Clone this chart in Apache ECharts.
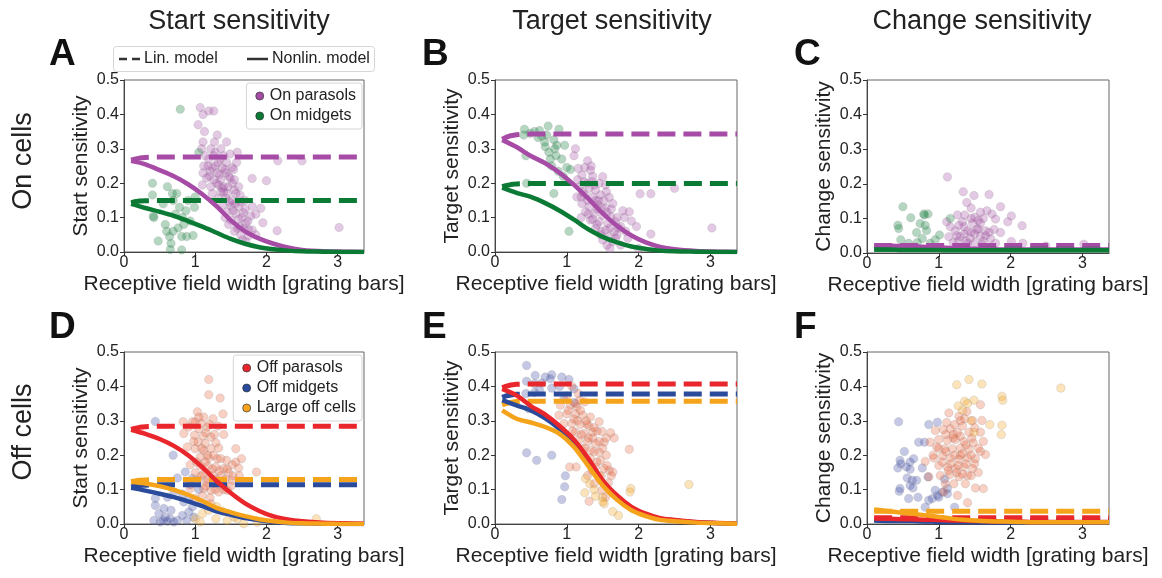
<!DOCTYPE html>
<html>
<head>
<meta charset="utf-8">
<script src="https://cdn.jsdelivr.net/npm/echarts@6/dist/echarts.min.js"></script>
<style>
html,body{margin:0;padding:0;background:#fff;}
#chart{width:1162px;height:578px;}
</style>
</head>
<body>
<div id="chart"></div>
<script>
// ---------- tick labels / axes ----------
const xTicks = [0, 1, 2, 3];
const yTicks = [0, 0.1, 0.2, 0.3, 0.4, 0.5];
const colTitles = ['Start sensitivity', 'Target sensitivity', 'Change sensitivity'];
const rowTitles = ['On cells', 'Off cells'];
const panelLetters = ['A', 'B', 'C', 'D', 'E', 'F'];
const yNames = ['Start sensitivity', 'Target sensitivity', 'Change sensitivity'];
const xName = 'Receptive field width [grating bars]';
const onNames = ['On parasols', 'On midgets'];
const offNames = ['Off parasols', 'Off midgets', 'Large off cells'];

// ---------- model curves ----------
const curveX = [0.1, 0.3, 0.5, 0.7, 0.9, 1.1, 1.3, 1.5, 1.7, 1.9, 2.1, 2.3, 2.5, 2.8, 3.1, 3.37];
const linX = [0.1, 0.15, 0.22, 0.3, 0.45, 3.37];

// Panel A (On, start)
const aParasolNonlin = [0.265, 0.255, 0.238, 0.220, 0.197, 0.168, 0.133, 0.092, 0.060, 0.039, 0.024, 0.013, 0.006, 0.002, 0.001, 0.0];
const aMidgetNonlin  = [0.140, 0.128, 0.117, 0.105, 0.090, 0.074, 0.056, 0.038, 0.024, 0.014, 0.008, 0.004, 0.002, 0.001, 0.0, 0.0];
const aParasolLin = [0.267, 0.270, 0.273, 0.275, 0.276, 0.276];
const aMidgetLin  = [0.143, 0.146, 0.148, 0.149, 0.150, 0.150];
// Panel B (On, target)
const bParasolNonlin = [0.326, 0.305, 0.279, 0.258, 0.230, 0.195, 0.155, 0.112, 0.076, 0.048, 0.028, 0.015, 0.008, 0.003, 0.001, 0.0];
const bMidgetNonlin  = [0.187, 0.172, 0.160, 0.142, 0.120, 0.094, 0.066, 0.044, 0.028, 0.016, 0.009, 0.004, 0.002, 0.001, 0.0, 0.0];
const bParasolLin = [0.328, 0.333, 0.338, 0.341, 0.343, 0.343];
const bMidgetLin  = [0.190, 0.193, 0.196, 0.198, 0.199, 0.199];
// Panel C (On, change)
const cParasolNonlin = [0.022, 0.021, 0.020, 0.019, 0.017, 0.015, 0.013, 0.012, 0.011, 0.010, 0.010, 0.010, 0.010, 0.010, 0.010, 0.010];
const cMidgetNonlin  = [0.010, 0.010, 0.009, 0.009, 0.009, 0.008, 0.008, 0.008, 0.008, 0.008, 0.008, 0.008, 0.008, 0.008, 0.008, 0.008];
const cParasolLin = [0.022, 0.022, 0.022, 0.022, 0.022, 0.022];
const cMidgetLin  = [0.011, 0.011, 0.011, 0.011, 0.011, 0.011];
// Panel D (Off, start)
const dParasolNonlin = [0.274, 0.262, 0.247, 0.227, 0.200, 0.165, 0.125, 0.090, 0.060, 0.038, 0.022, 0.013, 0.008, 0.004, 0.002, 0.001];
const dMidgetNonlin  = [0.105, 0.097, 0.088, 0.078, 0.066, 0.052, 0.037, 0.027, 0.017, 0.011, 0.006, 0.003, 0.002, 0.001, 0.0, 0.0];
const dLargeNonlin   = [0.123, 0.118, 0.110, 0.099, 0.085, 0.067, 0.047, 0.034, 0.023, 0.014, 0.008, 0.004, 0.002, 0.001, 0.0, 0.0];
const dParasolLin = [0.275, 0.278, 0.281, 0.283, 0.284, 0.284];
const dMidgetLin  = [0.108, 0.110, 0.112, 0.113, 0.114, 0.114];
const dLargeLin   = [0.123, 0.125, 0.127, 0.128, 0.129, 0.129];
// Panel E (Off, target)
const eParasolNonlin = [0.393, 0.374, 0.343, 0.318, 0.285, 0.245, 0.190, 0.127, 0.083, 0.050, 0.030, 0.017, 0.012, 0.006, 0.003, 0.001];
const eMidgetNonlin  = [0.360, 0.345, 0.330, 0.307, 0.276, 0.237, 0.180, 0.122, 0.078, 0.046, 0.027, 0.015, 0.010, 0.005, 0.002, 0.001];
const eLargeNonlin   = [0.330, 0.306, 0.295, 0.282, 0.262, 0.224, 0.168, 0.112, 0.070, 0.040, 0.023, 0.012, 0.008, 0.004, 0.002, 0.001];
const eParasolLin = [0.396, 0.400, 0.404, 0.406, 0.407, 0.407];
const eMidgetLin  = [0.368, 0.372, 0.375, 0.377, 0.378, 0.378];
const eLargeLin   = [0.346, 0.350, 0.353, 0.356, 0.357, 0.357];
// Panel F (Off, change)
const fParasolNonlin = [0.016, 0.015, 0.014, 0.013, 0.012, 0.011, 0.010, 0.009, 0.008, 0.007, 0.007, 0.006, 0.006, 0.006, 0.006, 0.006];
const fMidgetNonlin  = [0.010, 0.009, 0.009, 0.008, 0.007, 0.006, 0.006, 0.005, 0.005, 0.004, 0.004, 0.004, 0.004, 0.004, 0.004, 0.004];
const fLargeNonlin   = [0.042, 0.037, 0.033, 0.028, 0.023, 0.018, 0.013, 0.010, 0.008, 0.007, 0.006, 0.005, 0.005, 0.005, 0.005, 0.005];
const fParasolLin = [0.018, 0.018, 0.018, 0.018, 0.018, 0.018];
const fMidgetLin  = [0.012, 0.012, 0.012, 0.012, 0.012, 0.012];
const fLargeLin   = [0.037, 0.037, 0.037, 0.037, 0.037, 0.037];

// ---------- cells (receptive field width, sensitivity) ----------
const aParasol = [[1.07,0.42],[1.11,0.40],[1.19,0.41],[1.26,0.41],[1.04,0.37],[1.13,0.35],[1.31,0.34],[1.11,0.32],[1.27,0.32],[1.44,0.32],[1.59,0.29],[1.09,0.30],[1.22,0.30],[1.36,0.30],[1.14,0.28],[1.26,0.28],[1.40,0.28],[1.49,0.285],[1.19,0.27],[1.32,0.26],[1.44,0.26],[1.12,0.25],[1.24,0.245],[1.38,0.245],[1.52,0.245],[1.11,0.23],[1.21,0.235],[1.31,0.23],[1.43,0.23],[1.54,0.24],[1.16,0.215],[1.26,0.21],[1.36,0.21],[1.49,0.215],[1.80,0.214],[2.0,0.207],[1.10,0.195],[1.22,0.19],[1.33,0.195],[1.40,0.19],[1.52,0.2],[1.61,0.19],[1.24,0.17],[1.36,0.175],[1.45,0.17],[1.57,0.17],[1.40,0.175],[1.33,0.156],[1.43,0.156],[1.52,0.15],[1.64,0.146],[1.38,0.136],[1.50,0.134],[1.61,0.132],[1.80,0.132],[1.92,0.127],[1.45,0.117],[1.57,0.112],[1.68,0.114],[1.78,0.105],[1.50,0.093],[1.61,0.095],[1.71,0.083],[1.95,0.085],[1.59,0.069],[1.68,0.069],[1.80,0.064],[2.15,0.062],[1.64,0.05],[1.75,0.047],[1.71,0.03],[2.16,0.265],[2.50,0.265],[3.02,0.071],
  [1.28,0.25],[1.35,0.27],[1.42,0.24],[1.47,0.22],[1.55,0.21],[1.30,0.20],[1.38,0.185],[1.46,0.19],[1.55,0.18],[1.63,0.165],[1.48,0.145],[1.56,0.14],[1.70,0.125],[1.42,0.10],[1.53,0.12],[1.66,0.10],[1.74,0.09],[1.47,0.08],[1.62,0.075],[1.75,0.065],[1.85,0.05],[1.66,0.035],[1.20,0.22],[1.28,0.29],[1.18,0.25],[1.34,0.225],[1.58,0.26],[1.70,0.15],[1.85,0.11],[1.55,0.06]];
const aMidget = [[0.79,0.415],[1.05,0.289],[0.40,0.20],[0.40,0.166],[0.61,0.19],[0.68,0.17],[0.74,0.17],[0.41,0.104],[0.42,0.10],[0.48,0.032],[0.64,0.045],[0.65,0.007],[0.81,0.006],[0.78,0.13],[0.82,0.10],[0.84,0.08],[0.69,0.06],[0.76,0.07],[0.97,0.048],[0.60,0.06],[0.88,0.045],[0.81,0.045],[0.99,0.13],[1.0,0.16],[0.69,0.15],[0.55,0.14],[0.87,0.12],[0.93,0.09],[0.72,0.11],[0.58,0.08],[0.90,0.15],[0.66,0.025]];
const bParasol = [[1.12,0.30],[1.10,0.28],[1.29,0.265],[1.16,0.243],[1.25,0.246],[1.33,0.238],[1.21,0.224],[1.36,0.22],[1.50,0.219],[1.45,0.20],[1.54,0.195],[1.24,0.204],[1.31,0.185],[1.40,0.18],[1.14,0.16],[1.25,0.166],[1.36,0.16],[1.47,0.166],[1.59,0.159],[2.02,0.169],[2.17,0.169],[2.50,0.185],[1.21,0.141],[1.31,0.132],[1.43,0.137],[1.54,0.127],[1.64,0.141],[1.26,0.117],[1.38,0.112],[1.50,0.107],[1.61,0.103],[1.78,0.12],[1.87,0.117],[1.33,0.093],[1.45,0.088],[1.57,0.083],[1.68,0.088],[1.80,0.10],[1.40,0.069],[1.54,0.064],[1.66,0.059],[1.75,0.074],[1.97,0.074],[1.50,0.035],[1.64,0.03],[1.75,0.02],[2.00,0.01],[2.17,0.052],[3.02,0.07],[1.18,0.19],[1.29,0.15],[1.42,0.125],[1.52,0.15],[1.35,0.205],[1.58,0.045],[1.70,0.05],[1.47,0.05],[1.60,0.01],[1.20,0.10],
  [1.15,0.21],[1.22,0.175],[1.28,0.20],[1.38,0.195],[1.44,0.15],[1.48,0.13],[1.56,0.115],[1.62,0.125],[1.70,0.10],[1.72,0.07],[1.36,0.095],[1.42,0.08],[1.48,0.06],[1.60,0.07],[1.68,0.04],[1.82,0.06],[1.90,0.09],[1.30,0.11],[1.20,0.16],[1.40,0.15],[1.55,0.175],[1.85,0.04],[1.56,0.02],[1.34,0.25]];
const bMidget = [[0.41,0.357],[0.49,0.345],[0.62,0.353],[0.74,0.366],[0.89,0.357],[0.40,0.34],[0.65,0.337],[0.82,0.326],[0.69,0.32],[0.43,0.28],[0.75,0.29],[0.83,0.30],[0.85,0.28],[0.97,0.31],[0.77,0.27],[0.93,0.27],[1.00,0.246],[1.05,0.24],[0.44,0.20],[0.82,0.17],[1.03,0.06],[0.86,0.31],[0.70,0.306],[0.60,0.333],[0.79,0.25],[0.95,0.22],[0.55,0.35],[0.72,0.34],[0.88,0.235]];
const cParasol = [[1.12,0.22],[1.34,0.177],[1.49,0.166],[1.70,0.169],[1.39,0.146],[1.45,0.13],[1.86,0.134],[2.01,0.107],[1.96,0.09],[2.16,0.079],[1.26,0.11],[1.58,0.118],[1.67,0.122],[1.74,0.113],[1.50,0.103],[1.11,0.09],[1.16,0.076],[1.35,0.076],[1.47,0.086],[1.58,0.086],[1.79,0.098],[1.23,0.064],[1.40,0.064],[1.53,0.068],[1.65,0.064],[1.77,0.068],[1.86,0.059],[1.14,0.047],[1.30,0.047],[1.44,0.042],[1.58,0.049],[1.72,0.042],[2.01,0.033],[2.17,0.028],[2.49,0.02],[1.40,0.028],[1.79,0.028],[1.20,0.03],[3.02,0.025],[1.33,0.09],[1.62,0.10],[1.27,0.035],[1.50,0.055],[1.62,0.035],
  [1.25,0.05],[1.35,0.055],[1.45,0.06],[1.55,0.07],[1.65,0.05],[1.38,0.035],[1.50,0.03],[1.60,0.025],[1.70,0.06],[1.45,0.10],[1.36,0.11],[1.55,0.095],[1.28,0.08]];
const cMidget = [[0.50,0.134],[0.43,0.08],[0.44,0.071],[0.61,0.102],[0.79,0.113],[0.85,0.113],[0.74,0.085],[0.81,0.08],[0.69,0.059],[0.83,0.065],[0.47,0.038],[0.77,0.042],[0.95,0.038],[1.01,0.052],[0.58,0.028],[0.88,0.028],[1.16,0.10],[0.80,0.11],[0.70,0.03]];
const dParasol = [[1.19,0.42],[1.35,0.366],[1.19,0.376],[1.03,0.326],[1.39,0.32],[1.12,0.311],[1.25,0.306],[0.83,0.297],[0.96,0.297],[1.0,0.297],[1.08,0.292],[0.91,0.282],[1.05,0.277],[1.17,0.282],[1.32,0.285],[1.40,0.26],[0.84,0.263],[0.99,0.258],[1.11,0.256],[1.22,0.253],[1.04,0.238],[1.14,0.234],[1.29,0.236],[0.89,0.224],[1.0,0.219],[1.12,0.214],[1.22,0.219],[1.33,0.221],[1.57,0.219],[1.07,0.195],[1.19,0.192],[1.31,0.19],[1.44,0.185],[1.57,0.18],[0.93,0.172],[1.07,0.17],[1.18,0.168],[1.29,0.166],[1.40,0.161],[1.52,0.172],[1.61,0.163],[1.0,0.149],[1.12,0.146],[1.24,0.143],[1.36,0.14],[1.47,0.149],[1.86,0.151],[1.05,0.127],[1.17,0.122],[1.29,0.117],[1.40,0.114],[1.52,0.127],[1.12,0.103],[1.22,0.098],[1.33,0.093],[1.45,0.098],[1.10,0.083],[1.21,0.076],[0.93,0.103],[1.0,0.074],[1.22,0.059],
  [1.15,0.265],[1.27,0.26],[1.09,0.22],[1.17,0.20],[1.26,0.20],[1.36,0.19],[1.02,0.18],[1.14,0.18],[1.24,0.16],[1.34,0.155],[1.45,0.16],[1.08,0.14],[1.18,0.13],[1.30,0.13],[1.42,0.13],[1.53,0.14],[1.15,0.11],[1.28,0.10],[1.40,0.10],[1.50,0.11],[0.98,0.24],[1.05,0.31],[1.20,0.29],[1.62,0.14],[1.65,0.19]];
const dMidget = [[0.44,0.298],[0.69,0.20],[0.44,0.075],[0.44,0.054],[0.61,0.078],[0.70,0.093],[0.82,0.087],[0.93,0.114],[0.84,0.064],[0.56,0.045],[0.49,0.03],[0.58,0.02],[0.65,0.015],[0.75,0.01],[0.51,0.006],[0.70,0.006],[0.82,0.025],[0.91,0.035],[0.98,0.02],[0.61,0.008],[0.42,0.01],[0.96,0.05],[0.86,0.151],[0.75,0.134],[0.96,0.132],[0.91,0.074],[0.55,0.01],[0.88,0.01],[0.66,0.04],[1.05,0.10],[1.10,0.06]];
const dLarge = [[1.19,0.04],[1.38,0.037],[1.29,0.015],[1.45,0.01],[1.59,0.015],[1.07,0.006],[1.68,0.001],[2.70,0.015],[1.87,0.005],[1.55,0.02],[1.10,0.03],[1.30,0.05],[1.00,0.015]];
const eParasol = [[1.07,0.40],[1.16,0.379],[1.0,0.372],[0.91,0.345],[1.05,0.345],[1.14,0.34],[1.25,0.355],[0.89,0.316],[1.0,0.32],[1.12,0.32],[1.22,0.316],[1.33,0.311],[0.96,0.292],[1.07,0.292],[1.19,0.289],[1.31,0.285],[1.45,0.297],[1.12,0.267],[1.24,0.263],[1.36,0.267],[1.49,0.269],[1.61,0.265],[1.17,0.243],[1.29,0.24],[1.40,0.234],[1.52,0.238],[1.87,0.217],[1.21,0.219],[1.33,0.214],[1.45,0.209],[1.47,0.185],[1.33,0.19],[1.59,0.156],[1.52,0.161],[1.64,0.151],[1.40,0.166],[1.04,0.166],[1.13,0.166],[1.29,0.141],[1.38,0.117],[1.49,0.098],[1.54,0.078],[1.31,0.066],[1.19,0.33],[1.10,0.305],[1.28,0.29],[1.36,0.25],[1.42,0.27],
  [1.02,0.33],[1.15,0.30],[1.27,0.30],[1.20,0.26],[1.30,0.25],[1.38,0.28],[1.25,0.22],[1.38,0.21],[1.50,0.22],[1.45,0.24],[1.55,0.20],[1.42,0.18],[1.56,0.17],[1.62,0.14],[1.48,0.14],[1.35,0.155],[1.12,0.35],[1.18,0.36],[1.08,0.27],[1.55,0.25],[1.66,0.25],[1.58,0.12]];
const eMidget = [[0.44,0.461],[0.56,0.432],[0.70,0.427],[0.79,0.434],[0.93,0.427],[0.44,0.415],[0.55,0.408],[0.65,0.41],[0.77,0.422],[1.03,0.42],[1.10,0.393],[0.43,0.379],[0.55,0.382],[0.79,0.395],[0.47,0.335],[0.44,0.207],[0.58,0.185],[0.79,0.20],[0.98,0.14],[0.97,0.108],[0.93,0.071],[0.96,0.364],[1.10,0.353],[0.90,0.40],[0.62,0.39]];
const eLarge = [[1.25,0.091],[1.40,0.081],[1.50,0.078],[1.52,0.059],[1.64,0.036],[1.72,0.025],[1.89,0.103],[1.88,0.093],[2.70,0.115],[1.32,0.117],[1.38,0.10],[1.26,0.132],[1.50,0.065],[1.45,0.14]];
const fParasol = [[1.14,0.323],[1.28,0.313],[1.39,0.327],[1.58,0.347],[1.36,0.306],[1.47,0.301],[1.60,0.301],[1.11,0.295],[1.22,0.289],[1.33,0.285],[1.42,0.267],[1.58,0.267],[0.95,0.272],[1.06,0.275],[1.16,0.277],[1.26,0.266],[0.88,0.238],[1.0,0.246],[1.12,0.243],[1.23,0.246],[1.35,0.24],[1.48,0.236],[0.97,0.224],[1.08,0.219],[1.19,0.219],[1.30,0.221],[1.42,0.217],[1.58,0.211],[0.81,0.182],[0.93,0.192],[1.05,0.198],[1.16,0.192],[1.28,0.188],[1.40,0.192],[1.51,0.19],[1.65,0.202],[1.0,0.17],[1.12,0.166],[1.23,0.161],[1.35,0.166],[1.47,0.161],[0.86,0.137],[1.02,0.141],[1.15,0.143],[1.28,0.137],[1.40,0.141],[1.09,0.117],[1.21,0.117],[1.37,0.117],[1.51,0.105],[1.62,0.103],[1.07,0.093],[1.26,0.083],[1.40,0.062],[1.20,0.25],[1.30,0.20],
  [1.10,0.26],[1.20,0.26],[1.30,0.255],[1.38,0.23],[1.46,0.25],[1.10,0.21],[1.22,0.20],[1.33,0.205],[1.45,0.20],[1.55,0.22],[1.05,0.18],[1.17,0.175],[1.27,0.17],[1.38,0.175],[1.50,0.175],[1.13,0.155],[1.25,0.15],[1.33,0.145],[1.45,0.14],[1.55,0.15],[0.92,0.20],[1.00,0.22],[1.62,0.24],[1.50,0.28],[1.30,0.30]];
const fMidget = [[0.44,0.297],[0.86,0.289],[0.98,0.296],[0.72,0.238],[0.80,0.238],[0.52,0.211],[0.46,0.185],[0.43,0.163],[0.47,0.175],[0.60,0.18],[0.65,0.19],[0.55,0.166],[0.60,0.159],[0.77,0.163],[0.56,0.134],[0.63,0.127],[0.69,0.127],[0.60,0.112],[0.64,0.105],[0.85,0.137],[0.46,0.103],[0.58,0.074],[0.71,0.078],[0.86,0.069],[0.91,0.074],[0.98,0.083],[1.05,0.093],[1.12,0.103],[1.0,0.078],[0.81,0.049],[1.22,0.049],[1.12,0.088],[0.95,0.098],[0.45,0.095],[1.08,0.13]];
const fLarge = [[1.25,0.405],[1.42,0.42],[1.60,0.407],[1.88,0.371],[1.89,0.36],[1.27,0.343],[1.36,0.357],[1.49,0.36],[1.40,0.35],[1.71,0.289],[1.88,0.287],[1.87,0.26],[1.49,0.266],[2.70,0.395],[1.45,0.30],[1.33,0.33]];

// ---------- styling ----------
const FONT = 'Liberation Sans, Arial, Helvetica, sans-serif';
const C_PUR = '#a64ca6', C_GRN = '#0b7a35', C_RED = '#e8262b', C_BLU = '#2a4b9b', C_ORA = '#f5a31a';
const GRIDS = [
  {left: 124, top: 80, width: 240, height: 172},
  {left: 495, top: 80, width: 242, height: 172},
  {left: 867, top: 80, width: 242, height: 173},
  {left: 124, top: 352, width: 240, height: 172},
  {left: 495, top: 352, width: 242, height: 172},
  {left: 867, top: 352, width: 242, height: 172}
];

const grid = GRIDS.map(g => Object.assign({show: true, borderColor: '#666', borderWidth: 1, backgroundColor: 'transparent', containLabel: false}, g));
const xAxis = GRIDS.map((g, i) => ({
  gridIndex: i, type: 'value', min: 0, max: 3.37,
  name: xName, nameLocation: 'middle', nameGap: 22,
  nameTextStyle: {fontSize: 21, fontFamily: FONT, color: '#222'},
  axisLine: {show: true, onZero: false, lineStyle: {color: '#444', width: 1}},
  axisTick: {show: true, length: 4, customValues: xTicks, lineStyle: {color: '#333'}},
  axisLabel: {show: true, customValues: xTicks, fontSize: 16, fontFamily: FONT, color: '#222', margin: 3},
  splitLine: {show: false}
}));
const yAxis = GRIDS.map((g, i) => ({
  gridIndex: i, type: 'value', min: 0, max: 0.5, interval: 0.1,
  name: yNames[i % 3], nameLocation: 'middle', nameGap: 32,
  nameTextStyle: {fontSize: 21, fontFamily: FONT, color: '#222'},
  axisLine: {show: true, onZero: false, lineStyle: {color: '#444', width: 1}},
  axisTick: {show: true, length: 4, customValues: yTicks, lineStyle: {color: '#333'}},
  axisLabel: {show: true, customValues: yTicks, fontSize: 16, fontFamily: FONT, color: '#222', margin: 5,
    formatter: v => Number(v).toFixed(1)},
  splitLine: {show: false}
}));

const series = [];
function scat(idx, name, data, color) {
  series.push({type: 'scatter', name, xAxisIndex: idx, yAxisIndex: idx, data, symbolSize: 8.5, z: 1,
    itemStyle: {color, opacity: 0.3, borderColor: '#8a8a8a', borderWidth: 0.7}, silent: true, animation: false});
}
function curve(idx, name, xs, ys, color, dashed) {
  series.push({type: 'line', name, xAxisIndex: idx, yAxisIndex: idx, data: xs.map((x, k) => [x, ys[k]]),
    showSymbol: false, symbol: 'none', smooth: dashed ? false : 0.3, z: dashed ? 3 : 4,
    lineStyle: {color, width: dashed ? 5 : 4.5, type: dashed ? [18, 8] : 'solid', cap: 'butt', join: 'round'},
    silent: true, animation: false});
}
// On row
const onPanels = [
  [aParasol, aMidget, aParasolNonlin, aMidgetNonlin, aParasolLin, aMidgetLin],
  [bParasol, bMidget, bParasolNonlin, bMidgetNonlin, bParasolLin, bMidgetLin],
  [cParasol, cMidget, cParasolNonlin, cMidgetNonlin, cParasolLin, cMidgetLin]
];
onPanels.forEach((p, i) => {
  scat(i, onNames[0], p[0], C_PUR);
  scat(i, onNames[1], p[1], C_GRN);
  curve(i, 'linP' + i, linX, p[4], C_PUR, true);
  curve(i, 'linM' + i, linX, p[5], C_GRN, true);
  curve(i, 'nlP' + i, curveX, p[2], C_PUR, false);
  curve(i, 'nlM' + i, curveX, p[3], C_GRN, false);
});
const offPanels = [
  [dParasol, dMidget, dLarge, dParasolNonlin, dMidgetNonlin, dLargeNonlin, dParasolLin, dMidgetLin, dLargeLin],
  [eParasol, eMidget, eLarge, eParasolNonlin, eMidgetNonlin, eLargeNonlin, eParasolLin, eMidgetLin, eLargeLin],
  [fParasol, fMidget, fLarge, fParasolNonlin, fMidgetNonlin, fLargeNonlin, fParasolLin, fMidgetLin, fLargeLin]
];
offPanels.forEach((p, j) => {
  const i = j + 3;
  scat(i, offNames[1], p[1], '#3a4aa6');
  scat(i, offNames[0], p[0], '#e8643c');
  scat(i, offNames[2], p[2], C_ORA);
  curve(i, 'linB' + i, linX, p[7], C_BLU, true);
  curve(i, 'linR' + i, linX, p[6], C_RED, true);
  curve(i, 'linO' + i, linX, p[8], C_ORA, true);
  curve(i, 'nlB' + i, curveX, p[4], C_BLU, false);
  curve(i, 'nlR' + i, curveX, p[3], C_RED, false);
  curve(i, 'nlO' + i, curveX, p[5], C_ORA, false);
});

function legendItem(name, color) {
  return {name, icon: 'circle', itemStyle: {color, opacity: 1, borderColor: '#333', borderWidth: 0.7}};
}
const legendCommon = {orient: 'vertical', itemWidth: 8, itemHeight: 8, itemGap: 4, selectedMode: false,
  textStyle: {fontSize: 16, fontFamily: FONT, color: '#222', padding: [0, 0, 0, 1]},
  backgroundColor: '#fff', borderColor: '#d6d6d6', borderWidth: 1, borderRadius: 3, padding: [5, 6, 5, 9]};
const legend = [
  Object.assign({}, legendCommon, {right: 1162 - 362, top: 83, data: [legendItem(onNames[0], C_PUR), legendItem(onNames[1], C_GRN)]}),
  Object.assign({}, legendCommon, {right: 1162 - 362, top: 355, data: [legendItem(offNames[0], C_RED), legendItem(offNames[1], C_BLU), legendItem(offNames[2], C_ORA)]})
];

function txt(x, y, text, size, opts) {
  return Object.assign({type: 'text', x, y, silent: true, style: Object.assign({text, fontSize: size, fontFamily: FONT, fill: '#222',
    textAlign: 'center', align: 'center', textVerticalAlign: 'middle', verticalAlign: 'middle'}, (opts && opts.style) || {})},
    opts && opts.rotation !== undefined ? {rotation: opts.rotation} : {});
}
const letterPos = [[49, 55], [422, 55], [794, 55], [49, 328], [422, 328], [794, 328]];
const elements = [];
colTitles.forEach((t, i) => elements.push(txt([239, 612, 982][i], 22, t, 27)));
rowTitles.forEach((t, i) => elements.push(txt(24, [161, 432][i], t, 27, {rotation: Math.PI / 2})));
panelLetters.forEach((t, i) => elements.push(txt(letterPos[i][0], letterPos[i][1], t, 37,
  {style: {fontWeight: 'bold', textAlign: 'left', align: 'left', fill: '#111'}})));
// model-type legend box
elements.push({type: 'rect', shape: {x: 113.5, y: 46.5, width: 261, height: 25, r: 3}, style: {fill: '#fff', stroke: '#d6d6d6', lineWidth: 1}, silent: true, z: 10});
elements.push({type: 'line', shape: {x1: 119, y1: 59, x2: 141, y2: 59}, style: {stroke: '#333', lineWidth: 2.5, lineDash: [8, 5]}, silent: true, z: 11});
elements.push(Object.assign(txt(144, 59, 'Lin. model', 16, {style: {textAlign: 'left', align: 'left'}}), {z: 11}));
elements.push({type: 'line', shape: {x1: 247, y1: 59, x2: 268, y2: 59}, style: {stroke: '#333', lineWidth: 2.5}, silent: true, z: 11});
elements.push(Object.assign(txt(272, 59, 'Nonlin. model', 16, {style: {textAlign: 'left', align: 'left'}}), {z: 11}));

const chart = echarts.init(document.getElementById('chart'), null, {renderer: 'canvas'});
chart.setOption({
  backgroundColor: '#fff',
  animation: false,
  grid, xAxis, yAxis, series, legend,
  graphic: {elements}
});
</script>
</body>
</html>
